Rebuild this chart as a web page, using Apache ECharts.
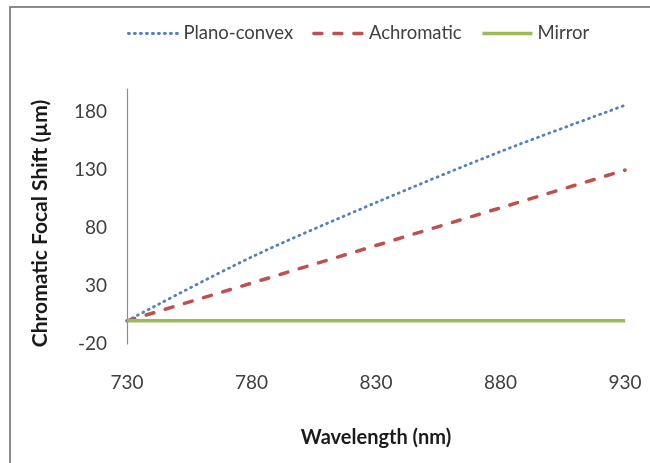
<!DOCTYPE html>
<html>
<head>
<meta charset="utf-8">
<script src="https://cdn.jsdelivr.net/npm/echarts@6/dist/echarts.min.js"></script>
<style>
  html, body { margin: 0; padding: 0; background: #ffffff; }
  #chart { width: 650px; height: 463px; }
</style>
</head>
<body>
<div id="chart"></div>
<script>
// Wavelength samples (nm) used as x-axis categories
const wavelengths = ['730', '780', '830', '880', '930'];

// Chromatic focal shift (µm) for each optic
const planoConvex = [0, 55, 102, 146, 186];
const achromatic  = [0, 32.5, 65, 97.5, 130];
const mirror      = [0, 0, 0, 0, 0];

const FONT = 'Lato, "Liberation Sans", sans-serif';
const TEXT = '#404040';

const BLUE = '#4F81BD';
const RED = '#C0504D';
const GREEN = '#9BBB59';

const blueLine = { color: BLUE, width: 2.8, type: [1, 5], cap: 'round' };
const redLine = { color: RED, width: 3.5, type: [8, 12], cap: 'round' };
const greenLine = { color: GREEN, width: 3.5 };

const chart = echarts.init(document.getElementById('chart'), null, { renderer: 'canvas' });

chart.setOption({
  animation: false,
  backgroundColor: '#ffffff',
  textStyle: { fontFamily: FONT },
  graphic: [{
    type: 'rect',
    shape: { x: 10, y: 7, width: 700, height: 520 },
    style: { fill: 'none', stroke: '#8a8a8a', lineWidth: 2 },
    silent: true
  }],
  legend: {
    top: 19,
    left: 122,
    itemWidth: 50,
    itemHeight: 14,
    itemGap: 19,
    itemStyle: { opacity: 0 },
    textStyle: { fontFamily: FONT, fontSize: 18.5, color: TEXT },
    data: [
      { name: 'Plano-convex', lineStyle: blueLine },
      { name: 'Achromatic', lineStyle: redLine },
      { name: 'Mirror', lineStyle: greenLine }
    ]
  },
  grid: { left: 127, right: 25, top: 89, bottom: 119, containLabel: false },
  xAxis: {
    type: 'category',
    data: wavelengths,
    boundaryGap: false,
    name: 'Wavelength (nm)',
    nameLocation: 'middle',
    nameGap: 84,
    nameTextStyle: { fontFamily: FONT, fontSize: 20, fontWeight: 'bold', color: '#1a1a1a' },
    axisLine: { lineStyle: { color: '#8c8c8c', width: 1.2 } },
    axisTick: { show: false },
    axisLabel: { fontFamily: FONT, fontSize: 19, color: TEXT, margin: 29 },
    splitLine: { show: false }
  },
  yAxis: {
    type: 'value',
    min: -20,
    max: 200,
    interval: 50,
    name: 'Chromatic Focal Shift (µm)',
    nameLocation: 'middle',
    nameGap: 76,
    nameTextStyle: { fontFamily: FONT, fontSize: 21, fontWeight: 'bold', color: '#1a1a1a', padding: [0, 14, 0, 0] },
    axisLine: { show: true, lineStyle: { color: '#8c8c8c', width: 1.2 } },
    axisTick: { show: false },
    axisLabel: { fontFamily: FONT, fontSize: 19, color: TEXT, margin: 20, showMaxLabel: false },
    splitLine: { show: false }
  },
  series: [
    {
      name: 'Plano-convex',
      type: 'line',
      data: planoConvex,
      smooth: 0.3,
      symbol: 'none',
      color: BLUE,
      lineStyle: blueLine,
      z: 3
    },
    {
      name: 'Achromatic',
      type: 'line',
      data: achromatic,
      symbol: 'none',
      color: RED,
      lineStyle: redLine,
      z: 2
    },
    {
      name: 'Mirror',
      type: 'line',
      data: mirror,
      symbol: 'none',
      color: GREEN,
      lineStyle: greenLine,
      z: 4
    }
  ]
});
</script>
</body>
</html>
